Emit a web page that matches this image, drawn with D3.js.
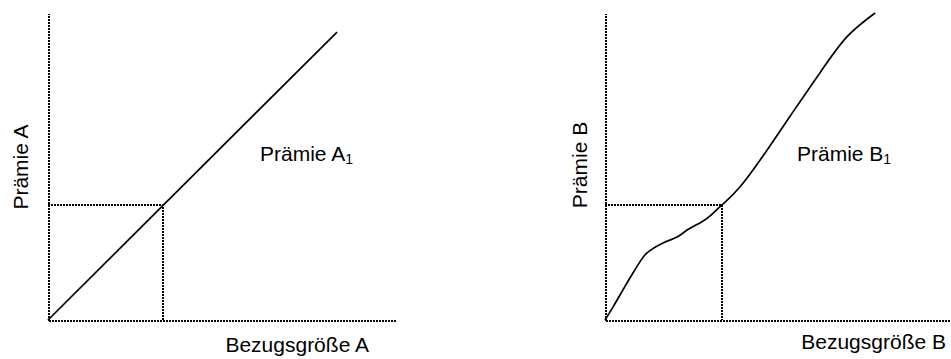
<!DOCTYPE html>
<html>
<head>
<meta charset="utf-8">
<script src="https://cdn.jsdelivr.net/npm/d3@7"></script>
<style>
  body { margin: 0; background: #fff; }
  text { font-family: "Liberation Sans", Arial, sans-serif; fill: #000; }
</style>
</head>
<body>
<script>
// Data (conceptual units, 0..100 on both axes)
const lineA = [[0, 0], [83.3, 93.8]]
const boxA = [33.1, 37.5]
const curveB = [
  [0, 0], [2.3, 4.2], [5.2, 9.8], [8.1, 15.3], [11.0, 20.4], [13.0, 22.6],
  [16.8, 25.1], [20.9, 27.0], [23.8, 29.3], [27.5, 31.6], [30.4, 33.8],
  [33.9, 37.5], [39.1, 43.3], [47.0, 55.4], [54.5, 67.8], [62.3, 80.5],
  [70.1, 92.2], [78.3, 100]
]
const boxB = [33.9, 37.5]
const labels = {
  A: { y: 'Prämie A', x: 'Bezugsgröße A', curve: 'Prämie A', sub: '1' },
  B: { y: 'Prämie B', x: 'Bezugsgröße B', curve: 'Prämie B', sub: '1' }
}

const width = 951, height = 359
const svg = d3.select('body').append('svg')
  .attr('width', width)
  .attr('height', height)

const dash = '2,1'

function panel(cfg) {
  const x = d3.scaleLinear().domain([0, 100]).range([cfg.left, cfg.right])
  const y = d3.scaleLinear().domain([0, 100]).range([320, 13])
  const g = svg.append('g')

  // axes without ticks, dotted
  g.append('g')
    .attr('transform', `translate(0,${y(0)})`)
    .call(d3.axisBottom(x).tickValues([]).tickSizeOuter(0))
  g.append('g')
    .attr('transform', `translate(${x(0)},0)`)
    .call(d3.axisLeft(y).tickValues([]).tickSizeOuter(0))
  g.selectAll('.domain')
    .attr('stroke', '#000')
    .attr('stroke-width', 2)
    .attr('stroke-dasharray', dash)
    .attr('shape-rendering', 'crispEdges')

  // reference box
  const [bx, by] = cfg.box
  g.append('path')
    .attr('d', `M${x(0)},${y(by)}H${x(bx)}V${y(0)}`)
    .attr('fill', 'none')
    .attr('stroke', '#000')
    .attr('stroke-width', 2)
    .attr('stroke-dasharray', dash)
    .attr('shape-rendering', 'crispEdges')

  // curve
  const line = d3.line()
    .x(d => x(d[0]))
    .y(d => y(d[1]))
    .curve(d3.curveNatural)
  g.append('path')
    .datum(cfg.data)
    .attr('fill', 'none')
    .attr('stroke', '#000')
    .attr('stroke-width', 1.7)
    .attr('d', line)

  // labels
  const t = g.append('text')
    .attr('x', cfg.curveLabel[0])
    .attr('y', cfg.curveLabel[1])
    .attr('font-size', '21px')
  t.append('tspan').text(cfg.text.curve)
  t.append('tspan').attr('font-size', '14px').attr('dy', 3).text(cfg.text.sub)

  g.append('text')
    .attr('transform', `translate(${cfg.yLabel[0]},${cfg.yLabel[1]}) rotate(-90)`)
    .attr('text-anchor', 'middle')
    .attr('font-size', '21px')
    .text(cfg.text.y)

  g.append('text')
    .attr('x', cfg.xLabel[0])
    .attr('y', cfg.xLabel[1])
    .attr('text-anchor', 'end')
    .attr('font-size', '21px')
    .text(cfg.text.x)
}

panel({ left: 48, right: 395, data: lineA, box: boxA, text: labels.A,
  curveLabel: [260, 161], yLabel: [28, 167], xLabel: [369, 352] })
panel({ left: 605, right: 950, data: curveB, box: boxB, text: labels.B,
  curveLabel: [797, 161], yLabel: [587, 165], xLabel: [946, 349] })
</script>
</body>
</html>
